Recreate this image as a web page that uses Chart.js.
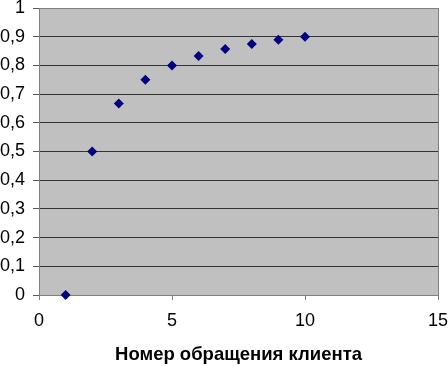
<!DOCTYPE html>
<html>
<head>
<meta charset="utf-8">
<script src="https://cdn.jsdelivr.net/npm/chart.js@4/dist/chart.umd.min.js"></script>
<style>
html,body{margin:0;padding:0;background:#fff;}
#wrap{width:448px;height:366px;position:relative;}
</style>
</head>
<body>
<div id="wrap"><canvas id="c" width="448" height="366"></canvas></div>
<script>
const clientNumbers = [1, 2, 3, 4, 5, 6, 7, 8, 9, 10];
const shareValues = [0, 0.5, 0.667, 0.75, 0.8, 0.833, 0.857, 0.875, 0.889, 0.9];
const yTickLabels = ['0', '0,1', '0,2', '0,3', '0,4', '0,5', '0,6', '0,7', '0,8', '0,9', '1'];
const xTickLabels = ['0', '5', '10', '15'];
const xTitle = 'Номер обращения клиента';

const points = clientNumbers.map((x, i) => ({x: x, y: shareValues[i]}));

const plotBg = {
  id: 'plotBg',
  beforeDraw(chart) {
    const {ctx, chartArea: a} = chart;
    ctx.save();
    ctx.fillStyle = '#C0C0C0';
    ctx.fillRect(a.left, a.top, a.right - a.left, a.bottom - a.top);
    ctx.restore();
  }
};

function zeroPad(s) {
  s.paddingLeft = 0; s.paddingRight = 0; s.paddingTop = 0; s.paddingBottom = 0;
}

new Chart(document.getElementById('c'), {
  type: 'scatter',
  data: {
    datasets: [{
      data: points,
      pointStyle: 'rectRot',
      pointRadius: 5,
      pointHoverRadius: 5,
      backgroundColor: '#000080',
      borderColor: '#000080',
      borderWidth: 0,
      clip: false
    }]
  },
  plugins: [plotBg],
  options: {
    responsive: false,
    animation: false,
    layout: {autoPadding: false, padding: {top: 8, right: 10, left: 0, bottom: 0}},
    plugins: {legend: {display: false}, tooltip: {enabled: false}},
    scales: {
      x: {
        type: 'linear',
        min: 0, max: 15,
        afterFit(s) { s.height = 71; zeroPad(s); },
        ticks: {
          stepSize: 5,
          color: '#000',
          padding: 10,
          maxRotation: 0,
          font: {family: 'Liberation Sans, Arial', size: 18},
          callback: (v, i) => xTickLabels[i]
        },
        grid: {
          color: (c) => (c.tick && c.tick.value === 15) ? '#808080' : 'rgba(0,0,0,0)',
          tickColor: '#808080',
          tickLength: 5,
          drawTicks: true
        },
        border: {color: '#808080', width: 1},
        title: {
          display: true,
          text: xTitle,
          color: '#000',
          font: {family: 'Liberation Sans, Arial', size: 18.5, weight: 'bold'},
          padding: {top: 0, bottom: 0}
        }
      },
      y: {
        type: 'linear',
        min: 0, max: 1,
        afterFit(s) { s.width = 39; zeroPad(s); },
        ticks: {
          stepSize: 0.1,
          color: '#000',
          padding: 8,
          font: {family: 'Liberation Sans, Arial', size: 18},
          callback: (v, i) => yTickLabels[i]
        },
        grid: {
          color: (c) => (c.tick && c.tick.value === 1) ? '#808080' : '#333333',
          tickColor: '#555555',
          tickLength: 6
        },
        border: {color: '#808080', width: 1}
      }
    }
  }
});
</script>
</body>
</html>
